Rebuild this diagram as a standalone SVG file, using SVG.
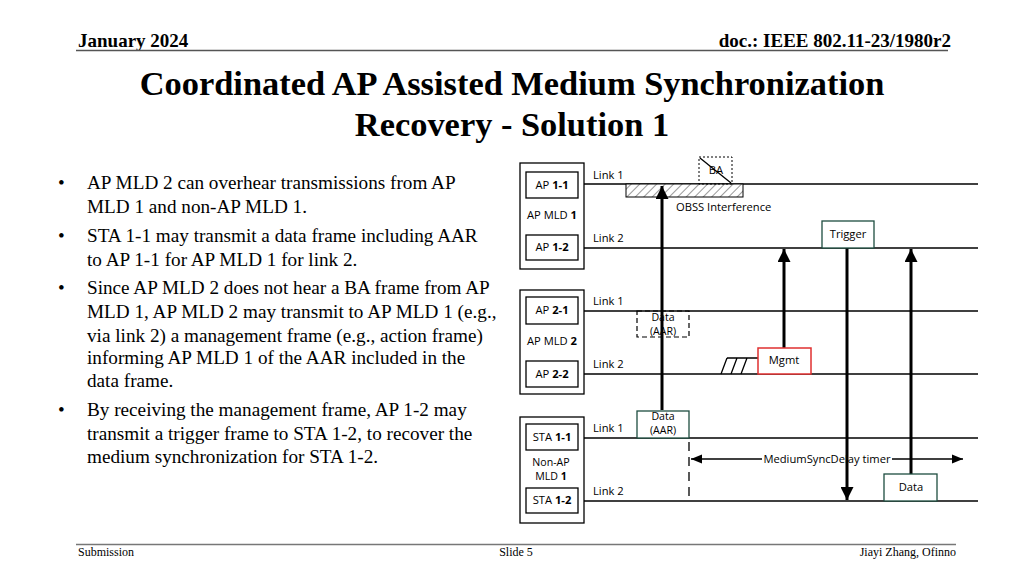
<svg xmlns="http://www.w3.org/2000/svg" width="1024" height="576" viewBox="0 0 1024 576">
<style>
.hdr{font-family:"Liberation Serif",serif;font-weight:bold;font-size:19px;fill:#000}
.ttl{font-family:"Liberation Serif",serif;font-weight:bold;font-size:34.4px;fill:#000;text-anchor:middle}
.ftr{font-family:"Liberation Serif",serif;font-size:12px;fill:#000}
.body{font-family:"Liberation Serif",serif;font-size:19.2px;fill:#000}
.lbl{font-family:"Open Sans","Liberation Sans",sans-serif;font-size:11.2px;fill:#000}
.sm{font-size:10.6px}
.c{text-anchor:middle}
.box{fill:#fff;stroke:#000;stroke-width:1.3}
.gbox{fill:#fff;stroke:#1e4d40;stroke-width:1.3}
.link{stroke:#000;stroke-width:1.5;fill:none}
.arr{stroke:#000;stroke-width:3;fill:none}
</style>
<defs>
<marker id="ah" viewBox="0 0 10 10" refX="10" refY="5" markerWidth="13" markerHeight="13" markerUnits="userSpaceOnUse" orient="auto">
<path d="M0,0 L10,5 L0,10 z" fill="#000"/>
</marker>
<marker id="ahs" viewBox="0 0 10 10" refX="10" refY="5" markerWidth="11" markerHeight="11" markerUnits="userSpaceOnUse" orient="auto">
<path d="M0,1 L10,5 L0,9 z" fill="#000"/>
</marker>
<pattern id="hatch" width="6" height="6" patternUnits="userSpaceOnUse" patternTransform="rotate(45)">
<rect width="6" height="6" fill="#fff"/>
<line x1="0" y1="0" x2="0" y2="6" stroke="#777" stroke-width="1.5"/>
</pattern>
</defs>
<rect width="1024" height="576" fill="#fff"/>

<g id="header">
<text class="hdr" x="78" y="47">January 2024</text>
<text class="hdr" x="951" y="47" text-anchor="end">doc.: IEEE 802.11-23/1980r2</text>
<line x1="76" y1="50.5" x2="948" y2="50.5" stroke="#555" stroke-width="1.5"/>
</g>
<g id="title">
<text class="ttl" x="512" y="95">Coordinated AP Assisted Medium Synchronization</text>
<text class="ttl" x="512" y="136">Recovery - Solution 1</text>
</g>
<g id="footer">
<line x1="76" y1="544.5" x2="956" y2="544.5" stroke="#777" stroke-width="1.5"/>
<text class="ftr" x="78" y="556">Submission</text>
<text class="ftr" x="516" y="556" text-anchor="middle">Slide 5</text>
<text class="ftr" x="956" y="556" text-anchor="end">Jiayi Zhang, Ofinno</text>
</g>

<g id="bullets" class="body">
<text x="58" y="189">•</text>
<text x="87" y="189">AP MLD 2 can overhear transmissions from AP</text>
<text x="87" y="213">MLD 1 and non-AP MLD 1.</text>
<text x="58" y="242">•</text>
<text x="87" y="242">STA 1-1 may transmit a data frame including AAR</text>
<text x="87" y="266">to AP 1-1 for AP MLD 1 for link 2.</text>
<text x="58" y="294">•</text>
<text x="87" y="294">Since AP MLD 2 does not hear a BA frame from AP</text>
<text x="87" y="318">MLD 1, AP MLD 2 may transmit to AP MLD 1 (e.g.,</text>
<text x="87" y="342">via link 2) a management frame (e.g., action frame)</text>
<text x="87" y="364">informing AP MLD 1 of the AAR included in the</text>
<text x="87" y="387">data frame.</text>
<text x="58" y="416">•</text>
<text x="87" y="416">By receiving the management frame, AP 1-2 may</text>
<text x="87" y="440">transmit a trigger frame to STA 1-2, to recover the</text>
<text x="87" y="463">medium synchronization for STA 1-2.</text>
</g>

<g id="links">
<line class="link" x1="578" y1="184" x2="978" y2="184"/>
<line class="link" x1="578" y1="248" x2="978" y2="248"/>
<line class="link" x1="578" y1="311" x2="978" y2="311"/>
<line class="link" x1="578" y1="374" x2="978" y2="374"/>
<line class="link" x1="578" y1="438" x2="978" y2="438"/>
<line class="link" x1="578" y1="501" x2="978" y2="501"/>
<text class="lbl" x="593" y="179">Link 1</text>
<text class="lbl" x="593" y="242">Link 2</text>
<text class="lbl" x="593" y="305">Link 1</text>
<text class="lbl" x="593" y="368">Link 2</text>
<text class="lbl" x="593" y="432">Link 1</text>
<text class="lbl" x="593" y="495">Link 2</text>
</g>

<g id="ap-mld-1">
<rect class="box" x="520" y="163" width="64" height="106"/>
<rect class="box" x="526" y="172" width="52" height="26"/>
<text class="lbl c" x="552" y="189">AP <tspan font-weight="bold">1-1</tspan></text>
<text class="lbl c" x="552" y="219">AP MLD <tspan font-weight="bold">1</tspan></text>
<rect class="box" x="526" y="235" width="52" height="25"/>
<text class="lbl c" x="552" y="251">AP <tspan font-weight="bold">1-2</tspan></text>
</g>
<g id="ap-mld-2">
<rect class="box" x="520" y="290" width="64" height="104"/>
<rect class="box" x="526" y="297" width="52" height="27"/>
<text class="lbl c" x="552" y="314">AP <tspan font-weight="bold">2-1</tspan></text>
<text class="lbl c" x="552" y="345">AP MLD <tspan font-weight="bold">2</tspan></text>
<rect class="box" x="526" y="361" width="52" height="26"/>
<text class="lbl c" x="552" y="378">AP <tspan font-weight="bold">2-2</tspan></text>
</g>
<g id="non-ap-mld-1">
<rect class="box" x="520" y="417" width="64" height="106"/>
<rect class="box" x="526" y="424" width="52" height="26"/>
<text class="lbl c" x="552" y="441">STA <tspan font-weight="bold">1-1</tspan></text>
<text class="lbl sm c" x="551" y="466">Non-AP</text>
<text class="lbl sm c" x="551" y="480">MLD <tspan font-weight="bold">1</tspan></text>
<rect class="box" x="526" y="488" width="52" height="25"/>
<text class="lbl c" x="552" y="504">STA <tspan font-weight="bold">1-2</tspan></text>
</g>

<g id="obss">
<rect x="626" y="184" width="117" height="13" fill="url(#hatch)" stroke="#000" stroke-width="1"/>
<text class="lbl" x="676" y="211">OBSS Interference</text>
</g>
<g id="ba">
<rect x="699" y="157" width="33" height="27" fill="none" stroke="#000" stroke-width="1" stroke-dasharray="2,2"/>
<text class="lbl c" x="716" y="174">BA</text>
<line x1="700" y1="158" x2="731" y2="183" stroke="#000" stroke-width="1.3"/>
</g>

<g id="data-aar-dashed">
<rect x="637" y="311" width="52" height="26" fill="none" stroke="#000" stroke-width="1.2" stroke-dasharray="5,3"/>
<text class="lbl sm c" x="663" y="321">Data</text>
<text class="lbl sm c" x="663" y="335">(AAR)</text>
</g>

<g id="connectors">
<line class="arr" x1="662" y1="410" x2="662" y2="186" marker-end="url(#ah)"/>
<line class="arr" x1="784" y1="348" x2="784" y2="249" marker-end="url(#ah)"/>
<line class="arr" x1="847" y1="248" x2="847" y2="500" marker-end="url(#ah)"/>
<line class="arr" x1="911" y1="474" x2="911" y2="249" marker-end="url(#ah)"/>
<line x1="689" y1="442" x2="689" y2="501" stroke="#000" stroke-width="1.3" stroke-dasharray="9,6"/>
<line x1="762" y1="459" x2="691" y2="459" stroke="#000" stroke-width="1.3" marker-end="url(#ahs)"/>
<line x1="892" y1="459" x2="963" y2="459" stroke="#000" stroke-width="1.3" marker-end="url(#ahs)"/>
<path d="M721,374 L727,358 M731,374 L737,358 M741,374 L747,358 M727,358 L758,358" stroke="#000" stroke-width="1.3" fill="none"/>
</g>
<text class="lbl c" x="827" y="463">MediumSyncDelay timer</text>

<g id="trigger">
<rect class="gbox" x="822" y="221" width="52" height="27"/>
<text class="lbl c" x="848" y="238">Trigger</text>
</g>
<g id="mgmt">
<rect x="758" y="348" width="53" height="26" fill="#fff" stroke="#e03030" stroke-width="1.5"/>
<text class="lbl c" x="784" y="364">Mgmt</text>
</g>
<g id="data-aar">
<rect class="gbox" x="637" y="411" width="52" height="27"/>
<text class="lbl sm c" x="663" y="420">Data</text>
<text class="lbl sm c" x="663" y="434">(AAR)</text>
</g>
<g id="data">
<rect class="gbox" x="884" y="474" width="53" height="27"/>
<text class="lbl c" x="911" y="491">Data</text>
</g>
</svg>
